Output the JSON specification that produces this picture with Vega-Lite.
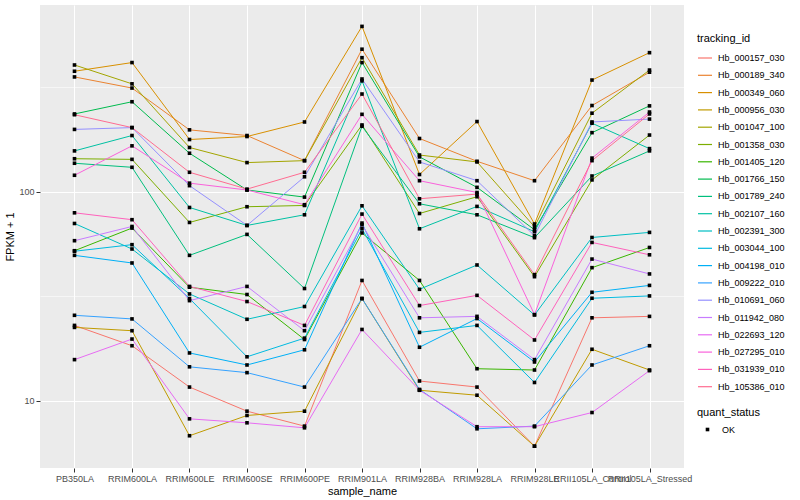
{
"$schema": "https://vega.github.io/schema/vega-lite/v6.json",
"autosize": {"type": "none"},
"padding": {"left": 40, "top": 5, "right": 116, "bottom": 32},
"width": 644,
"height": 463,
"background": "white",
"config": {
  "font": "Liberation Sans",
  "view": {"fill": "#EBEBEB", "stroke": null}
},
"datasets": {"expr": [
{"tracking_id":"Hb_000157_030","sample_name":"PB350LA","fpkm":22.9,"quant_status":"OK"},
{"tracking_id":"Hb_000157_030","sample_name":"RRIM600LA","fpkm":18.3,"quant_status":"OK"},
{"tracking_id":"Hb_000157_030","sample_name":"RRIM600LE","fpkm":11.6,"quant_status":"OK"},
{"tracking_id":"Hb_000157_030","sample_name":"RRIM600SE","fpkm":8.89,"quant_status":"OK"},
{"tracking_id":"Hb_000157_030","sample_name":"RRIM600PE","fpkm":7.54,"quant_status":"OK"},
{"tracking_id":"Hb_000157_030","sample_name":"RRIM901LA","fpkm":37.6,"quant_status":"OK"},
{"tracking_id":"Hb_000157_030","sample_name":"RRIM928BA","fpkm":12.4,"quant_status":"OK"},
{"tracking_id":"Hb_000157_030","sample_name":"RRIM928LA","fpkm":11.6,"quant_status":"OK"},
{"tracking_id":"Hb_000157_030","sample_name":"RRIM928LE","fpkm":6.04,"quant_status":"OK"},
{"tracking_id":"Hb_000157_030","sample_name":"RRII105LA_Control","fpkm":24.9,"quant_status":"OK"},
{"tracking_id":"Hb_000157_030","sample_name":"RRII105LA_Stressed","fpkm":25.3,"quant_status":"OK"},
{"tracking_id":"Hb_000189_340","sample_name":"PB350LA","fpkm":355,"quant_status":"OK"},
{"tracking_id":"Hb_000189_340","sample_name":"RRIM600LA","fpkm":314,"quant_status":"OK"},
{"tracking_id":"Hb_000189_340","sample_name":"RRIM600LE","fpkm":198,"quant_status":"OK"},
{"tracking_id":"Hb_000189_340","sample_name":"RRIM600SE","fpkm":186,"quant_status":"OK"},
{"tracking_id":"Hb_000189_340","sample_name":"RRIM600PE","fpkm":141,"quant_status":"OK"},
{"tracking_id":"Hb_000189_340","sample_name":"RRIM901LA","fpkm":482,"quant_status":"OK"},
{"tracking_id":"Hb_000189_340","sample_name":"RRIM928BA","fpkm":180,"quant_status":"OK"},
{"tracking_id":"Hb_000189_340","sample_name":"RRIM928LA","fpkm":140,"quant_status":"OK"},
{"tracking_id":"Hb_000189_340","sample_name":"RRIM928LE","fpkm":113,"quant_status":"OK"},
{"tracking_id":"Hb_000189_340","sample_name":"RRII105LA_Control","fpkm":259,"quant_status":"OK"},
{"tracking_id":"Hb_000189_340","sample_name":"RRII105LA_Stressed","fpkm":374,"quant_status":"OK"},
{"tracking_id":"Hb_000349_060","sample_name":"PB350LA","fpkm":378,"quant_status":"OK"},
{"tracking_id":"Hb_000349_060","sample_name":"RRIM600LA","fpkm":416,"quant_status":"OK"},
{"tracking_id":"Hb_000349_060","sample_name":"RRIM600LE","fpkm":178,"quant_status":"OK"},
{"tracking_id":"Hb_000349_060","sample_name":"RRIM600SE","fpkm":184,"quant_status":"OK"},
{"tracking_id":"Hb_000349_060","sample_name":"RRIM600PE","fpkm":216,"quant_status":"OK"},
{"tracking_id":"Hb_000349_060","sample_name":"RRIM901LA","fpkm":620,"quant_status":"OK"},
{"tracking_id":"Hb_000349_060","sample_name":"RRIM928BA","fpkm":121,"quant_status":"OK"},
{"tracking_id":"Hb_000349_060","sample_name":"RRIM928LA","fpkm":217,"quant_status":"OK"},
{"tracking_id":"Hb_000349_060","sample_name":"RRIM928LE","fpkm":70.1,"quant_status":"OK"},
{"tracking_id":"Hb_000349_060","sample_name":"RRII105LA_Control","fpkm":343,"quant_status":"OK"},
{"tracking_id":"Hb_000349_060","sample_name":"RRII105LA_Stressed","fpkm":464,"quant_status":"OK"},
{"tracking_id":"Hb_000956_030","sample_name":"PB350LA","fpkm":22.4,"quant_status":"OK"},
{"tracking_id":"Hb_000956_030","sample_name":"RRIM600LA","fpkm":21.6,"quant_status":"OK"},
{"tracking_id":"Hb_000956_030","sample_name":"RRIM600LE","fpkm":6.78,"quant_status":"OK"},
{"tracking_id":"Hb_000956_030","sample_name":"RRIM600SE","fpkm":8.48,"quant_status":"OK"},
{"tracking_id":"Hb_000956_030","sample_name":"RRIM600PE","fpkm":8.89,"quant_status":"OK"},
{"tracking_id":"Hb_000956_030","sample_name":"RRIM901LA","fpkm":30.8,"quant_status":"OK"},
{"tracking_id":"Hb_000956_030","sample_name":"RRIM928BA","fpkm":11.2,"quant_status":"OK"},
{"tracking_id":"Hb_000956_030","sample_name":"RRIM928LA","fpkm":10.6,"quant_status":"OK"},
{"tracking_id":"Hb_000956_030","sample_name":"RRIM928LE","fpkm":6.04,"quant_status":"OK"},
{"tracking_id":"Hb_000956_030","sample_name":"RRII105LA_Control","fpkm":17.6,"quant_status":"OK"},
{"tracking_id":"Hb_000956_030","sample_name":"RRII105LA_Stressed","fpkm":14.0,"quant_status":"OK"},
{"tracking_id":"Hb_001047_100","sample_name":"PB350LA","fpkm":405,"quant_status":"OK"},
{"tracking_id":"Hb_001047_100","sample_name":"RRIM600LA","fpkm":329,"quant_status":"OK"},
{"tracking_id":"Hb_001047_100","sample_name":"RRIM600LE","fpkm":163,"quant_status":"OK"},
{"tracking_id":"Hb_001047_100","sample_name":"RRIM600SE","fpkm":138,"quant_status":"OK"},
{"tracking_id":"Hb_001047_100","sample_name":"RRIM600PE","fpkm":141,"quant_status":"OK"},
{"tracking_id":"Hb_001047_100","sample_name":"RRIM901LA","fpkm":439,"quant_status":"OK"},
{"tracking_id":"Hb_001047_100","sample_name":"RRIM928BA","fpkm":150,"quant_status":"OK"},
{"tracking_id":"Hb_001047_100","sample_name":"RRIM928LA","fpkm":139,"quant_status":"OK"},
{"tracking_id":"Hb_001047_100","sample_name":"RRIM928LE","fpkm":68.0,"quant_status":"OK"},
{"tracking_id":"Hb_001047_100","sample_name":"RRII105LA_Control","fpkm":238,"quant_status":"OK"},
{"tracking_id":"Hb_001047_100","sample_name":"RRII105LA_Stressed","fpkm":383,"quant_status":"OK"},
{"tracking_id":"Hb_001358_030","sample_name":"PB350LA","fpkm":144,"quant_status":"OK"},
{"tracking_id":"Hb_001358_030","sample_name":"RRIM600LA","fpkm":143,"quant_status":"OK"},
{"tracking_id":"Hb_001358_030","sample_name":"RRIM600LE","fpkm":71.3,"quant_status":"OK"},
{"tracking_id":"Hb_001358_030","sample_name":"RRIM600SE","fpkm":84.8,"quant_status":"OK"},
{"tracking_id":"Hb_001358_030","sample_name":"RRIM600PE","fpkm":86.0,"quant_status":"OK"},
{"tracking_id":"Hb_001358_030","sample_name":"RRIM901LA","fpkm":209,"quant_status":"OK"},
{"tracking_id":"Hb_001358_030","sample_name":"RRIM928BA","fpkm":78.7,"quant_status":"OK"},
{"tracking_id":"Hb_001358_030","sample_name":"RRIM928LA","fpkm":94.7,"quant_status":"OK"},
{"tracking_id":"Hb_001358_030","sample_name":"RRIM928LE","fpkm":39.2,"quant_status":"OK"},
{"tracking_id":"Hb_001358_030","sample_name":"RRII105LA_Control","fpkm":114,"quant_status":"OK"},
{"tracking_id":"Hb_001358_030","sample_name":"RRII105LA_Stressed","fpkm":187,"quant_status":"OK"},
{"tracking_id":"Hb_001405_120","sample_name":"PB350LA","fpkm":52.2,"quant_status":"OK"},
{"tracking_id":"Hb_001405_120","sample_name":"RRIM600LA","fpkm":67.0,"quant_status":"OK"},
{"tracking_id":"Hb_001405_120","sample_name":"RRIM600LE","fpkm":34.9,"quant_status":"OK"},
{"tracking_id":"Hb_001405_120","sample_name":"RRIM600SE","fpkm":32.2,"quant_status":"OK"},
{"tracking_id":"Hb_001405_120","sample_name":"RRIM600PE","fpkm":19.6,"quant_status":"OK"},
{"tracking_id":"Hb_001405_120","sample_name":"RRIM901LA","fpkm":63.5,"quant_status":"OK"},
{"tracking_id":"Hb_001405_120","sample_name":"RRIM928BA","fpkm":37.6,"quant_status":"OK"},
{"tracking_id":"Hb_001405_120","sample_name":"RRIM928LA","fpkm":14.2,"quant_status":"OK"},
{"tracking_id":"Hb_001405_120","sample_name":"RRIM928LE","fpkm":14.0,"quant_status":"OK"},
{"tracking_id":"Hb_001405_120","sample_name":"RRII105LA_Control","fpkm":43.3,"quant_status":"OK"},
{"tracking_id":"Hb_001405_120","sample_name":"RRII105LA_Stressed","fpkm":54.1,"quant_status":"OK"},
{"tracking_id":"Hb_001766_150","sample_name":"PB350LA","fpkm":236,"quant_status":"OK"},
{"tracking_id":"Hb_001766_150","sample_name":"RRIM600LA","fpkm":270,"quant_status":"OK"},
{"tracking_id":"Hb_001766_150","sample_name":"RRIM600LE","fpkm":153,"quant_status":"OK"},
{"tracking_id":"Hb_001766_150","sample_name":"RRIM600SE","fpkm":102,"quant_status":"OK"},
{"tracking_id":"Hb_001766_150","sample_name":"RRIM600PE","fpkm":94.3,"quant_status":"OK"},
{"tracking_id":"Hb_001766_150","sample_name":"RRIM901LA","fpkm":416,"quant_status":"OK"},
{"tracking_id":"Hb_001766_150","sample_name":"RRIM928BA","fpkm":147,"quant_status":"OK"},
{"tracking_id":"Hb_001766_150","sample_name":"RRIM928LA","fpkm":105,"quant_status":"OK"},
{"tracking_id":"Hb_001766_150","sample_name":"RRIM928LE","fpkm":65.8,"quant_status":"OK"},
{"tracking_id":"Hb_001766_150","sample_name":"RRII105LA_Control","fpkm":192,"quant_status":"OK"},
{"tracking_id":"Hb_001766_150","sample_name":"RRII105LA_Stressed","fpkm":258,"quant_status":"OK"},
{"tracking_id":"Hb_001789_240","sample_name":"PB350LA","fpkm":137,"quant_status":"OK"},
{"tracking_id":"Hb_001789_240","sample_name":"RRIM600LA","fpkm":131,"quant_status":"OK"},
{"tracking_id":"Hb_001789_240","sample_name":"RRIM600LE","fpkm":49.6,"quant_status":"OK"},
{"tracking_id":"Hb_001789_240","sample_name":"RRIM600SE","fpkm":62.5,"quant_status":"OK"},
{"tracking_id":"Hb_001789_240","sample_name":"RRIM600PE","fpkm":34.4,"quant_status":"OK"},
{"tracking_id":"Hb_001789_240","sample_name":"RRIM901LA","fpkm":206,"quant_status":"OK"},
{"tracking_id":"Hb_001789_240","sample_name":"RRIM928BA","fpkm":87.6,"quant_status":"OK"},
{"tracking_id":"Hb_001789_240","sample_name":"RRIM928LA","fpkm":77.6,"quant_status":"OK"},
{"tracking_id":"Hb_001789_240","sample_name":"RRIM928LE","fpkm":60.3,"quant_status":"OK"},
{"tracking_id":"Hb_001789_240","sample_name":"RRII105LA_Control","fpkm":119,"quant_status":"OK"},
{"tracking_id":"Hb_001789_240","sample_name":"RRII105LA_Stressed","fpkm":157,"quant_status":"OK"},
{"tracking_id":"Hb_002107_160","sample_name":"PB350LA","fpkm":157,"quant_status":"OK"},
{"tracking_id":"Hb_002107_160","sample_name":"RRIM600LA","fpkm":186,"quant_status":"OK"},
{"tracking_id":"Hb_002107_160","sample_name":"RRIM600LE","fpkm":84.1,"quant_status":"OK"},
{"tracking_id":"Hb_002107_160","sample_name":"RRIM600SE","fpkm":69.0,"quant_status":"OK"},
{"tracking_id":"Hb_002107_160","sample_name":"RRIM600PE","fpkm":77.6,"quant_status":"OK"},
{"tracking_id":"Hb_002107_160","sample_name":"RRIM901LA","fpkm":340,"quant_status":"OK"},
{"tracking_id":"Hb_002107_160","sample_name":"RRIM928BA","fpkm":66.5,"quant_status":"OK"},
{"tracking_id":"Hb_002107_160","sample_name":"RRIM928LA","fpkm":85.1,"quant_status":"OK"},
{"tracking_id":"Hb_002107_160","sample_name":"RRIM928LE","fpkm":64.4,"quant_status":"OK"},
{"tracking_id":"Hb_002107_160","sample_name":"RRII105LA_Control","fpkm":213,"quant_status":"OK"},
{"tracking_id":"Hb_002107_160","sample_name":"RRII105LA_Stressed","fpkm":161,"quant_status":"OK"},
{"tracking_id":"Hb_002391_300","sample_name":"PB350LA","fpkm":70.5,"quant_status":"OK"},
{"tracking_id":"Hb_002391_300","sample_name":"RRIM600LA","fpkm":53.2,"quant_status":"OK"},
{"tracking_id":"Hb_002391_300","sample_name":"RRIM600LE","fpkm":32.4,"quant_status":"OK"},
{"tracking_id":"Hb_002391_300","sample_name":"RRIM600SE","fpkm":24.5,"quant_status":"OK"},
{"tracking_id":"Hb_002391_300","sample_name":"RRIM600PE","fpkm":28.2,"quant_status":"OK"},
{"tracking_id":"Hb_002391_300","sample_name":"RRIM901LA","fpkm":85.7,"quant_status":"OK"},
{"tracking_id":"Hb_002391_300","sample_name":"RRIM928BA","fpkm":34.1,"quant_status":"OK"},
{"tracking_id":"Hb_002391_300","sample_name":"RRIM928LA","fpkm":44.6,"quant_status":"OK"},
{"tracking_id":"Hb_002391_300","sample_name":"RRIM928LE","fpkm":25.7,"quant_status":"OK"},
{"tracking_id":"Hb_002391_300","sample_name":"RRII105LA_Control","fpkm":60.4,"quant_status":"OK"},
{"tracking_id":"Hb_002391_300","sample_name":"RRII105LA_Stressed","fpkm":63.9,"quant_status":"OK"},
{"tracking_id":"Hb_003044_100","sample_name":"PB350LA","fpkm":51.9,"quant_status":"OK"},
{"tracking_id":"Hb_003044_100","sample_name":"RRIM600LA","fpkm":55.8,"quant_status":"OK"},
{"tracking_id":"Hb_003044_100","sample_name":"RRIM600LE","fpkm":30.8,"quant_status":"OK"},
{"tracking_id":"Hb_003044_100","sample_name":"RRIM600SE","fpkm":16.2,"quant_status":"OK"},
{"tracking_id":"Hb_003044_100","sample_name":"RRIM600PE","fpkm":19.9,"quant_status":"OK"},
{"tracking_id":"Hb_003044_100","sample_name":"RRIM901LA","fpkm":66.5,"quant_status":"OK"},
{"tracking_id":"Hb_003044_100","sample_name":"RRIM928BA","fpkm":21.2,"quant_status":"OK"},
{"tracking_id":"Hb_003044_100","sample_name":"RRIM928LA","fpkm":22.9,"quant_status":"OK"},
{"tracking_id":"Hb_003044_100","sample_name":"RRIM928LE","fpkm":12.2,"quant_status":"OK"},
{"tracking_id":"Hb_003044_100","sample_name":"RRII105LA_Control","fpkm":30.9,"quant_status":"OK"},
{"tracking_id":"Hb_003044_100","sample_name":"RRII105LA_Stressed","fpkm":31.7,"quant_status":"OK"},
{"tracking_id":"Hb_004198_010","sample_name":"PB350LA","fpkm":49.6,"quant_status":"OK"},
{"tracking_id":"Hb_004198_010","sample_name":"RRIM600LA","fpkm":45.6,"quant_status":"OK"},
{"tracking_id":"Hb_004198_010","sample_name":"RRIM600LE","fpkm":16.9,"quant_status":"OK"},
{"tracking_id":"Hb_004198_010","sample_name":"RRIM600SE","fpkm":14.8,"quant_status":"OK"},
{"tracking_id":"Hb_004198_010","sample_name":"RRIM600PE","fpkm":17.5,"quant_status":"OK"},
{"tracking_id":"Hb_004198_010","sample_name":"RRIM901LA","fpkm":70.8,"quant_status":"OK"},
{"tracking_id":"Hb_004198_010","sample_name":"RRIM928BA","fpkm":18.0,"quant_status":"OK"},
{"tracking_id":"Hb_004198_010","sample_name":"RRIM928LA","fpkm":24.7,"quant_status":"OK"},
{"tracking_id":"Hb_004198_010","sample_name":"RRIM928LE","fpkm":15.3,"quant_status":"OK"},
{"tracking_id":"Hb_004198_010","sample_name":"RRII105LA_Control","fpkm":33.0,"quant_status":"OK"},
{"tracking_id":"Hb_004198_010","sample_name":"RRII105LA_Stressed","fpkm":35.6,"quant_status":"OK"},
{"tracking_id":"Hb_009222_010","sample_name":"PB350LA","fpkm":25.6,"quant_status":"OK"},
{"tracking_id":"Hb_009222_010","sample_name":"RRIM600LA","fpkm":24.6,"quant_status":"OK"},
{"tracking_id":"Hb_009222_010","sample_name":"RRIM600LE","fpkm":14.5,"quant_status":"OK"},
{"tracking_id":"Hb_009222_010","sample_name":"RRIM600SE","fpkm":13.6,"quant_status":"OK"},
{"tracking_id":"Hb_009222_010","sample_name":"RRIM600PE","fpkm":11.6,"quant_status":"OK"},
{"tracking_id":"Hb_009222_010","sample_name":"RRIM901LA","fpkm":30.8,"quant_status":"OK"},
{"tracking_id":"Hb_009222_010","sample_name":"RRIM928BA","fpkm":11.3,"quant_status":"OK"},
{"tracking_id":"Hb_009222_010","sample_name":"RRIM928LA","fpkm":7.32,"quant_status":"OK"},
{"tracking_id":"Hb_009222_010","sample_name":"RRIM928LE","fpkm":7.54,"quant_status":"OK"},
{"tracking_id":"Hb_009222_010","sample_name":"RRII105LA_Control","fpkm":14.8,"quant_status":"OK"},
{"tracking_id":"Hb_009222_010","sample_name":"RRII105LA_Stressed","fpkm":18.3,"quant_status":"OK"},
{"tracking_id":"Hb_010691_060","sample_name":"PB350LA","fpkm":199,"quant_status":"OK"},
{"tracking_id":"Hb_010691_060","sample_name":"RRIM600LA","fpkm":203,"quant_status":"OK"},
{"tracking_id":"Hb_010691_060","sample_name":"RRIM600LE","fpkm":107,"quant_status":"OK"},
{"tracking_id":"Hb_010691_060","sample_name":"RRIM600SE","fpkm":69.0,"quant_status":"OK"},
{"tracking_id":"Hb_010691_060","sample_name":"RRIM600PE","fpkm":118,"quant_status":"OK"},
{"tracking_id":"Hb_010691_060","sample_name":"RRIM901LA","fpkm":347,"quant_status":"OK"},
{"tracking_id":"Hb_010691_060","sample_name":"RRIM928BA","fpkm":139,"quant_status":"OK"},
{"tracking_id":"Hb_010691_060","sample_name":"RRIM928LA","fpkm":113,"quant_status":"OK"},
{"tracking_id":"Hb_010691_060","sample_name":"RRIM928LE","fpkm":61.6,"quant_status":"OK"},
{"tracking_id":"Hb_010691_060","sample_name":"RRII105LA_Control","fpkm":216,"quant_status":"OK"},
{"tracking_id":"Hb_010691_060","sample_name":"RRII105LA_Stressed","fpkm":223,"quant_status":"OK"},
{"tracking_id":"Hb_011942_080","sample_name":"PB350LA","fpkm":58.3,"quant_status":"OK"},
{"tracking_id":"Hb_011942_080","sample_name":"RRIM600LA","fpkm":68.2,"quant_status":"OK"},
{"tracking_id":"Hb_011942_080","sample_name":"RRIM600LE","fpkm":30.1,"quant_status":"OK"},
{"tracking_id":"Hb_011942_080","sample_name":"RRIM600SE","fpkm":35.2,"quant_status":"OK"},
{"tracking_id":"Hb_011942_080","sample_name":"RRIM600PE","fpkm":21.6,"quant_status":"OK"},
{"tracking_id":"Hb_011942_080","sample_name":"RRIM901LA","fpkm":69.5,"quant_status":"OK"},
{"tracking_id":"Hb_011942_080","sample_name":"RRIM928BA","fpkm":24.9,"quant_status":"OK"},
{"tracking_id":"Hb_011942_080","sample_name":"RRIM928LA","fpkm":25.3,"quant_status":"OK"},
{"tracking_id":"Hb_011942_080","sample_name":"RRIM928LE","fpkm":15.7,"quant_status":"OK"},
{"tracking_id":"Hb_011942_080","sample_name":"RRII105LA_Control","fpkm":47.6,"quant_status":"OK"},
{"tracking_id":"Hb_011942_080","sample_name":"RRII105LA_Stressed","fpkm":40.4,"quant_status":"OK"},
{"tracking_id":"Hb_022693_120","sample_name":"PB350LA","fpkm":15.7,"quant_status":"OK"},
{"tracking_id":"Hb_022693_120","sample_name":"RRIM600LA","fpkm":19.7,"quant_status":"OK"},
{"tracking_id":"Hb_022693_120","sample_name":"RRIM600LE","fpkm":8.17,"quant_status":"OK"},
{"tracking_id":"Hb_022693_120","sample_name":"RRIM600SE","fpkm":7.82,"quant_status":"OK"},
{"tracking_id":"Hb_022693_120","sample_name":"RRIM600PE","fpkm":7.40,"quant_status":"OK"},
{"tracking_id":"Hb_022693_120","sample_name":"RRIM901LA","fpkm":21.9,"quant_status":"OK"},
{"tracking_id":"Hb_022693_120","sample_name":"RRIM928BA","fpkm":11.2,"quant_status":"OK"},
{"tracking_id":"Hb_022693_120","sample_name":"RRIM928LA","fpkm":7.49,"quant_status":"OK"},
{"tracking_id":"Hb_022693_120","sample_name":"RRIM928LE","fpkm":7.49,"quant_status":"OK"},
{"tracking_id":"Hb_022693_120","sample_name":"RRII105LA_Control","fpkm":8.76,"quant_status":"OK"},
{"tracking_id":"Hb_022693_120","sample_name":"RRII105LA_Stressed","fpkm":13.9,"quant_status":"OK"},
{"tracking_id":"Hb_027295_010","sample_name":"PB350LA","fpkm":120,"quant_status":"OK"},
{"tracking_id":"Hb_027295_010","sample_name":"RRIM600LA","fpkm":166,"quant_status":"OK"},
{"tracking_id":"Hb_027295_010","sample_name":"RRIM600LE","fpkm":110,"quant_status":"OK"},
{"tracking_id":"Hb_027295_010","sample_name":"RRIM600SE","fpkm":102,"quant_status":"OK"},
{"tracking_id":"Hb_027295_010","sample_name":"RRIM600PE","fpkm":86.7,"quant_status":"OK"},
{"tracking_id":"Hb_027295_010","sample_name":"RRIM901LA","fpkm":235,"quant_status":"OK"},
{"tracking_id":"Hb_027295_010","sample_name":"RRIM928BA","fpkm":113,"quant_status":"OK"},
{"tracking_id":"Hb_027295_010","sample_name":"RRIM928LA","fpkm":99.2,"quant_status":"OK"},
{"tracking_id":"Hb_027295_010","sample_name":"RRIM928LE","fpkm":25.8,"quant_status":"OK"},
{"tracking_id":"Hb_027295_010","sample_name":"RRII105LA_Control","fpkm":145,"quant_status":"OK"},
{"tracking_id":"Hb_027295_010","sample_name":"RRII105LA_Stressed","fpkm":241,"quant_status":"OK"},
{"tracking_id":"Hb_031939_010","sample_name":"PB350LA","fpkm":79.3,"quant_status":"OK"},
{"tracking_id":"Hb_031939_010","sample_name":"RRIM600LA","fpkm":73.5,"quant_status":"OK"},
{"tracking_id":"Hb_031939_010","sample_name":"RRIM600LE","fpkm":35.2,"quant_status":"OK"},
{"tracking_id":"Hb_031939_010","sample_name":"RRIM600SE","fpkm":29.8,"quant_status":"OK"},
{"tracking_id":"Hb_031939_010","sample_name":"RRIM600PE","fpkm":22.9,"quant_status":"OK"},
{"tracking_id":"Hb_031939_010","sample_name":"RRIM901LA","fpkm":78.2,"quant_status":"OK"},
{"tracking_id":"Hb_031939_010","sample_name":"RRIM928BA","fpkm":28.5,"quant_status":"OK"},
{"tracking_id":"Hb_031939_010","sample_name":"RRIM928LA","fpkm":31.9,"quant_status":"OK"},
{"tracking_id":"Hb_031939_010","sample_name":"RRIM928LE","fpkm":19.5,"quant_status":"OK"},
{"tracking_id":"Hb_031939_010","sample_name":"RRII105LA_Control","fpkm":57.2,"quant_status":"OK"},
{"tracking_id":"Hb_031939_010","sample_name":"RRII105LA_Stressed","fpkm":49.9,"quant_status":"OK"},
{"tracking_id":"Hb_105386_010","sample_name":"PB350LA","fpkm":234,"quant_status":"OK"},
{"tracking_id":"Hb_105386_010","sample_name":"RRIM600LA","fpkm":203,"quant_status":"OK"},
{"tracking_id":"Hb_105386_010","sample_name":"RRIM600LE","fpkm":124,"quant_status":"OK"},
{"tracking_id":"Hb_105386_010","sample_name":"RRIM600SE","fpkm":103,"quant_status":"OK"},
{"tracking_id":"Hb_105386_010","sample_name":"RRIM600PE","fpkm":124,"quant_status":"OK"},
{"tracking_id":"Hb_105386_010","sample_name":"RRIM901LA","fpkm":294,"quant_status":"OK"},
{"tracking_id":"Hb_105386_010","sample_name":"RRIM928BA","fpkm":92.6,"quant_status":"OK"},
{"tracking_id":"Hb_105386_010","sample_name":"RRIM928LA","fpkm":97.5,"quant_status":"OK"},
{"tracking_id":"Hb_105386_010","sample_name":"RRIM928LE","fpkm":40.1,"quant_status":"OK"},
{"tracking_id":"Hb_105386_010","sample_name":"RRII105LA_Control","fpkm":141,"quant_status":"OK"},
{"tracking_id":"Hb_105386_010","sample_name":"RRII105LA_Stressed","fpkm":236,"quant_status":"OK"}
]},
"data": {"name": "expr"},
"encoding": {
  "x": {
    "field": "sample_name", "type": "nominal",
    "sort": ["PB350LA","RRIM600LA","RRIM600LE","RRIM600SE","RRIM600PE","RRIM901LA","RRIM928BA","RRIM928LA","RRIM928LE","RRII105LA_Control","RRII105LA_Stressed"],
    "scale": {"type": "point", "padding": 0.6},
    "axis": {
      "title": "sample_name", "titleFontSize": 11, "titleFontWeight": "normal", "titleColor": "black", "titlePadding": 2,
      "labelAngle": 0, "labelFontSize": 9, "labelColor": "#4D4D4D", "labelPadding": 2, "labelOverlap": false,
      "tickColor": "#333333", "tickSize": 4, "domain": false,
      "grid": true, "gridColor": "white", "gridWidth": 1.07
    }
  },
  "y": {
    "field": "fpkm", "type": "quantitative",
    "scale": {"type": "log", "domain": [4.75, 785], "nice": false, "zero": false},
    "axis": {
      "title": "FPKM + 1", "titleFontSize": 11, "titleFontWeight": "normal", "titleColor": "black", "titlePadding": 3,
      "values": [10, 31.62, 100, 316.2],
      "labelExpr": "datum.value == 10 ? '10' : (datum.value == 100 ? '100' : '')",
      "labelFontSize": 9, "labelColor": "#4D4D4D", "labelPadding": 2,
      "tickColor": "#333333", "tickSize": 4,
      "tickOpacity": {"condition": {"test": "datum.value == 10 || datum.value == 100", "value": 1}, "value": 0},
      "domain": false,
      "grid": true, "gridColor": "white",
      "gridWidth": {"condition": {"test": "datum.value == 10 || datum.value == 100", "value": 1.07}, "value": 0.55}
    }
  }
},
"layer": [
  {
    "mark": {"type": "line", "strokeWidth": 1},
    "encoding": {
      "color": {
        "field": "tracking_id", "type": "nominal",
        "scale": {"range": ["#F8766D","#EA8331","#D89000","#C09B00","#A3A500","#7CAE00","#39B600","#00BB4E","#00BF7D","#00C1A3","#00BFC4","#00BAE0","#00B0F6","#35A2FF","#9590FF","#C77CFF","#E76BF3","#FA62DB","#FF62BC","#FF6C91"]},
        "legend": {
          "title": "tracking_id", "orient": "none", "legendX": 657, "legendY": 28,
          "titleFontSize": 11, "titleFontWeight": "normal", "titleColor": "black", "titlePadding": 6,
          "labelFontSize": 9, "labelColor": "black", "labelOffset": 5,
          "symbolType": "stroke", "symbolSize": 196, "symbolStrokeWidth": 1.2, "rowPadding": 4.3
        }
      }
    }
  },
  {
    "mark": {"type": "point", "filled": true, "color": "black", "size": 13, "opacity": 1},
    "encoding": {
      "shape": {
        "field": "quant_status", "type": "nominal",
        "scale": {"range": ["square"]},
        "legend": {
          "title": "quant_status", "orient": "none", "legendX": 657, "legendY": 402,
          "titleFontSize": 11, "titleFontWeight": "normal", "titleColor": "black", "titlePadding": 7,
          "labelFontSize": 9, "labelColor": "black", "labelOffset": 10,
          "symbolSize": 13, "symbolFillColor": "black", "symbolStrokeColor": "black", "symbolOffset": 6
        }
      }
    }
  }
]
}
